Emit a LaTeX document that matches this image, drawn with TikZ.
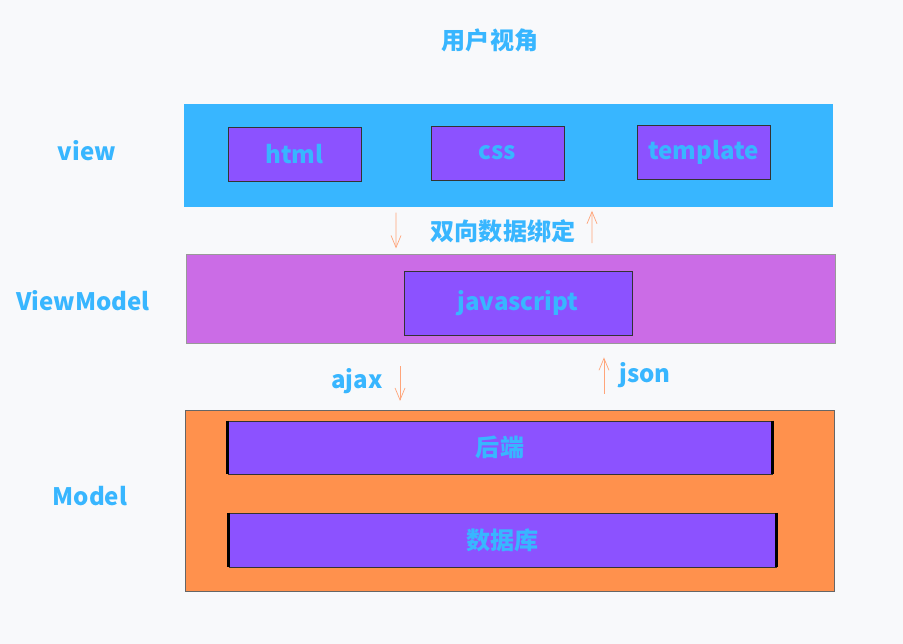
\documentclass[tikz,border=0pt]{standalone}
\usepackage{fontspec}
\setmainfont{Noto Sans CJK SC}
\usepackage{tikz}
\usetikzlibrary{arrows.meta,positioning,calc}
\definecolor{bgcol}{HTML}{F8F9FB}
\definecolor{txtblue}{HTML}{38B6FF}
\definecolor{boxpurple}{HTML}{8C52FF}
\definecolor{vmpink}{HTML}{CB6CE6}
\definecolor{mdorange}{HTML}{FF914D}
\definecolor{arrorange}{HTML}{FFA57A}

\begin{document}
\begin{tikzpicture}[x=0.02cm, y=-0.02cm,
    lbl/.style={text=txtblue, font=\fontsize{13.7}{16}\selectfont\bfseries},
    band/.style={inner sep=0pt},
    part/.style={draw=black!80, thin, fill=boxpurple, inner sep=0pt,
                 text=txtblue, font=\fontsize{13.7}{16}\selectfont\bfseries},
    flow/.style={arrorange, thin, -{Straight Barb[length=2.4mm,width=2mm]}}]
  \fill[bgcol] (0,0) rectangle (903,644);
  \useasboundingbox (0,0) rectangle (903,644);
  % Title
  \node[lbl] (title) at (490,40) {用户视角};
  % View layer
  \node[band, fill=txtblue, minimum width=12.98cm, minimum height=2.06cm]
    (view) at (508.5,155.5) {};
  \node[part, minimum width=2.66cm, minimum height=1.08cm] (html) at (294.5,154) {html};
  \node[part, minimum width=2.66cm, minimum height=1.08cm] (css) at (497.5,153) {css};
  \node[part, minimum width=2.66cm, minimum height=1.08cm] (tpl) at (703.5,152) {template};
  \node[lbl] (viewlbl) at (87,151) {view};
  % ViewModel layer
  \node[band, draw=black!40, fill=vmpink, minimum width=12.98cm, minimum height=1.78cm]
    (vm) at (510.5,298.5) {};
  \node[part, minimum width=4.56cm, minimum height=1.28cm] (js) at (518,303) {javascript};
  \node[lbl] (vmlbl) at (83,301) {ViewModel};
  % Model layer
  \node[band, draw=black!60, fill=mdorange, minimum width=12.98cm, minimum height=3.62cm]
    (model) at (509.5,500.5) {};
  \node[part, minimum width=10.88cm, minimum height=1.06cm] (back) at (500,447.5) {后端};
  \node[part, minimum width=10.94cm, minimum height=1.08cm] (db) at (502.5,540) {数据库};
  \foreach \b in {back,db} {
    \draw[line width=0.06cm] (\b.north west) -- (\b.south west);
    \draw[line width=0.06cm] (\b.north east) -- (\b.south east);
  }
  \node[lbl] (mdlbl) at (90,496) {Model};
  % Binding arrows
  \draw[flow, shorten <=3, shorten >=3] ([xshift=-2.25cm]view.south) -- ([xshift=-2.29cm]vm.north);
  \draw[flow, shorten <=6, shorten >=2] ([xshift=1.63cm]vm.north) -- ([xshift=1.67cm]view.south);
  \node[lbl] (bind) at (503,231) {双向数据绑定};
  % Data arrows
  \draw[flow, shorten <=13, shorten >=5] ([xshift=-2.21cm]vm.south) -- ([xshift=-2.19cm]model.north);
  \draw[flow, shorten <=9, shorten >=8] ([xshift=1.89cm]model.north) -- ([xshift=1.87cm]vm.south);
  \node[lbl] (ajax) at (357,381) {ajax};
  \node[lbl] (json) at (645,375) {json};
\end{tikzpicture}
\end{document}
